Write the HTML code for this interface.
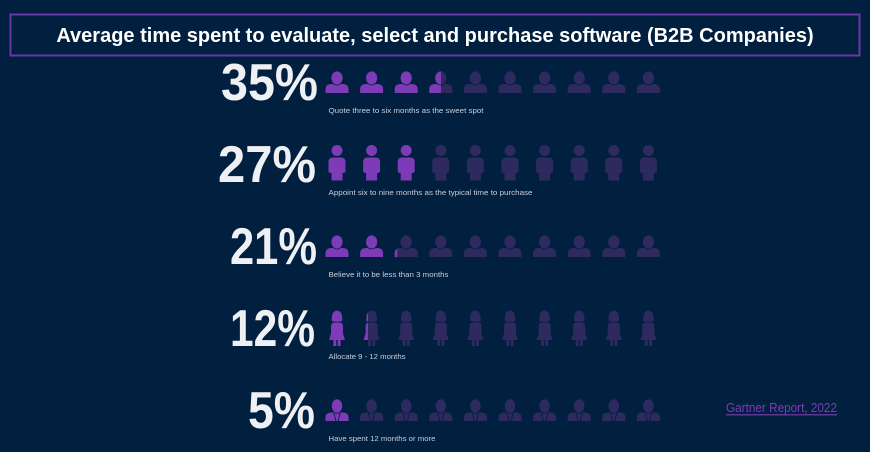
<!DOCTYPE html>
<html>
<head>
<meta charset="utf-8">
<style>
  html, body { margin:0; padding:0; background:#01203f; }
  body { width:870px; height:452px; overflow:hidden; }
  svg { display:block; }
  text { font-family: "Liberation Sans", "DejaVu Sans", sans-serif; }
</style>
</head>
<body>
<svg width="870" height="452" viewBox="0 0 870 452" xmlns="http://www.w3.org/2000/svg">
  <defs>
    <g id="bust">
      <path d="M-11.5,22 V18.5 Q-11.5,13 -5.5,13 H5.5 Q11.5,13 11.5,18.5 V22 Z"/>
      <ellipse cx="0" cy="7" rx="6" ry="7" stroke="#01203f" stroke-width="0.8"/>
    </g>
    <g id="person">
      <circle cx="0" cy="5.5" r="5.5"/>
      <path d="M-8.5,26 V17 Q-8.5,12.5 -4,12.5 H4 Q8.5,12.5 8.5,17 V26 Q8.5,28 6,28 H5.5 V35.5 H-5.5 V28 H-6 Q-8.5,28 -8.5,26 Z"/>
    </g>
    <g id="woman">
      <path d="M-5.2,11 Q-5.8,1 0,0.5 Q5.8,1 5.2,11 Q0,12.5 -5.2,11 Z"/>
      <path d="M-6,16.5 Q-6,12.5 -2.5,12.5 H2.5 Q6,12.5 6,16.5 V23.5 L8,30 H-8 L-6,23.5 Z"/>
      <rect x="-3.6" y="30" width="2.9" height="6"/>
      <rect x="0.7" y="30" width="2.9" height="6"/>
    </g>
    <g id="biz">
      <path d="M-11.5,22 V18.5 Q-11.5,13.5 -5.5,13.5 H5.5 Q11.5,13.5 11.5,18.5 V22 Z"/>
      <ellipse cx="0" cy="7" rx="5.6" ry="7.2" stroke="#01203f" stroke-width="0.8"/>
      <path d="M-3.2,14 L-1.1,22 M3.2,14 L1.1,22" stroke="#01203f" stroke-width="0.9" fill="none"/>
    </g>
    <clipPath id="c1"><rect x="0" y="0" width="441" height="452"/></clipPath>
    <clipPath id="c3"><rect x="0" y="0" width="397.3" height="452"/></clipPath>
    <clipPath id="c4"><rect x="0" y="0" width="368" height="452"/></clipPath>
  </defs>

  <rect x="0" y="0" width="870" height="452" fill="#01203f"/>

  <!-- Title -->
  <rect x="10.5" y="14.5" width="849" height="41" fill="none" stroke="#6b35a5" stroke-width="2"/>
  <text x="435" y="42" font-size="20" font-weight="bold" fill="#ffffff" text-anchor="middle">Average time spent to evaluate, select and purchase software (B2B Companies)</text>

  <!-- Big numbers -->
  <g font-weight="bold" font-size="52" fill="#eff0f3">
    <text x="221" y="100" textLength="97" lengthAdjust="spacingAndGlyphs">35%</text>
    <text x="218" y="182" textLength="98" lengthAdjust="spacingAndGlyphs">27%</text>
    <text x="230" y="264" textLength="87" lengthAdjust="spacingAndGlyphs">21%</text>
    <text x="230" y="346" textLength="85" lengthAdjust="spacingAndGlyphs">12%</text>
    <text x="248" y="428" textLength="67" lengthAdjust="spacingAndGlyphs">5%</text>
  </g>

  <!-- Descriptions -->
  <g font-size="7.5" fill="#c9ced8">
    <text x="328.5" y="113" textLength="155" lengthAdjust="spacingAndGlyphs">Quote three to six months as the sweet spot</text>
    <text x="328.5" y="195" textLength="204" lengthAdjust="spacingAndGlyphs">Appoint six to nine months as the typical time to purchase</text>
    <text x="328.5" y="277" textLength="120" lengthAdjust="spacingAndGlyphs">Believe it to be less than 3 months</text>
    <text x="328.5" y="359" textLength="77" lengthAdjust="spacingAndGlyphs">Allocate 9 - 12 months</text>
    <text x="328.5" y="441" textLength="107" lengthAdjust="spacingAndGlyphs">Have spent 12 months or more</text>
  </g>

  <!-- Row 1: busts (35%) -->
  <g>
    <use href="#bust" transform="translate(337,71)" fill="#7d3bb7"/>
    <use href="#bust" transform="translate(371.6,71)" fill="#7d3bb7"/>
    <use href="#bust" transform="translate(406.2,71)" fill="#7d3bb7"/>
    <use href="#bust" transform="translate(440.8,71)" fill="#2e2a5f"/>
    <g clip-path="url(#c1)"><use href="#bust" transform="translate(440.8,71)" fill="#7d3bb7"/></g>
    <use href="#bust" transform="translate(475.4,71)" fill="#2e2a5f"/>
    <use href="#bust" transform="translate(510,71)" fill="#2e2a5f"/>
    <use href="#bust" transform="translate(544.6,71)" fill="#2e2a5f"/>
    <use href="#bust" transform="translate(579.2,71)" fill="#2e2a5f"/>
    <use href="#bust" transform="translate(613.8,71)" fill="#2e2a5f"/>
    <use href="#bust" transform="translate(648.4,71)" fill="#2e2a5f"/>
  </g>

  <!-- Row 2: persons (27%) -->
  <g>
    <use href="#person" transform="translate(337,145)" fill="#7d3bb7"/>
    <use href="#person" transform="translate(371.6,145)" fill="#7d3bb7"/>
    <use href="#person" transform="translate(406.2,145)" fill="#7d3bb7"/>
    <use href="#person" transform="translate(440.8,145)" fill="#2e2a5f"/>
    <use href="#person" transform="translate(475.4,145)" fill="#2e2a5f"/>
    <use href="#person" transform="translate(510,145)" fill="#2e2a5f"/>
    <use href="#person" transform="translate(544.6,145)" fill="#2e2a5f"/>
    <use href="#person" transform="translate(579.2,145)" fill="#2e2a5f"/>
    <use href="#person" transform="translate(613.8,145)" fill="#2e2a5f"/>
    <use href="#person" transform="translate(648.4,145)" fill="#2e2a5f"/>
  </g>

  <!-- Row 3: busts (21%) -->
  <g>
    <use href="#bust" transform="translate(337,235)" fill="#7d3bb7"/>
    <use href="#bust" transform="translate(371.6,235)" fill="#7d3bb7"/>
    <use href="#bust" transform="translate(406.2,235)" fill="#2e2a5f"/>
    <g clip-path="url(#c3)"><use href="#bust" transform="translate(406.2,235)" fill="#7d3bb7"/></g>
    <use href="#bust" transform="translate(440.8,235)" fill="#2e2a5f"/>
    <use href="#bust" transform="translate(475.4,235)" fill="#2e2a5f"/>
    <use href="#bust" transform="translate(510,235)" fill="#2e2a5f"/>
    <use href="#bust" transform="translate(544.6,235)" fill="#2e2a5f"/>
    <use href="#bust" transform="translate(579.2,235)" fill="#2e2a5f"/>
    <use href="#bust" transform="translate(613.8,235)" fill="#2e2a5f"/>
    <use href="#bust" transform="translate(648.4,235)" fill="#2e2a5f"/>
  </g>

  <!-- Row 4: women (12%) -->
  <g>
    <use href="#woman" transform="translate(337,310)" fill="#7d3bb7"/>
    <use href="#woman" transform="translate(371.6,310)" fill="#2e2a5f"/>
    <g clip-path="url(#c4)"><use href="#woman" transform="translate(371.6,310)" fill="#7d3bb7"/></g>
    <use href="#woman" transform="translate(406.2,310)" fill="#2e2a5f"/>
    <use href="#woman" transform="translate(440.8,310)" fill="#2e2a5f"/>
    <use href="#woman" transform="translate(475.4,310)" fill="#2e2a5f"/>
    <use href="#woman" transform="translate(510,310)" fill="#2e2a5f"/>
    <use href="#woman" transform="translate(544.6,310)" fill="#2e2a5f"/>
    <use href="#woman" transform="translate(579.2,310)" fill="#2e2a5f"/>
    <use href="#woman" transform="translate(613.8,310)" fill="#2e2a5f"/>
    <use href="#woman" transform="translate(648.4,310)" fill="#2e2a5f"/>
  </g>

  <!-- Row 5: businessmen (5%) -->
  <g>
    <use href="#biz" transform="translate(337,399)" fill="#7d3bb7"/>
    <use href="#biz" transform="translate(371.6,399)" fill="#2e2a5f"/>
    <use href="#biz" transform="translate(406.2,399)" fill="#2e2a5f"/>
    <use href="#biz" transform="translate(440.8,399)" fill="#2e2a5f"/>
    <use href="#biz" transform="translate(475.4,399)" fill="#2e2a5f"/>
    <use href="#biz" transform="translate(510,399)" fill="#2e2a5f"/>
    <use href="#biz" transform="translate(544.6,399)" fill="#2e2a5f"/>
    <use href="#biz" transform="translate(579.2,399)" fill="#2e2a5f"/>
    <use href="#biz" transform="translate(613.8,399)" fill="#2e2a5f"/>
    <use href="#biz" transform="translate(648.4,399)" fill="#2e2a5f"/>
  </g>

  <!-- Source link -->
  <text x="726" y="412" font-size="12.5" fill="#7d3bb7" textLength="111" lengthAdjust="spacingAndGlyphs">Gartner Report, 2022</text>
  <line x1="726" y1="414.8" x2="837" y2="414.8" stroke="#7d3bb7" stroke-width="1.2"/>
</svg>
</body>
</html>
